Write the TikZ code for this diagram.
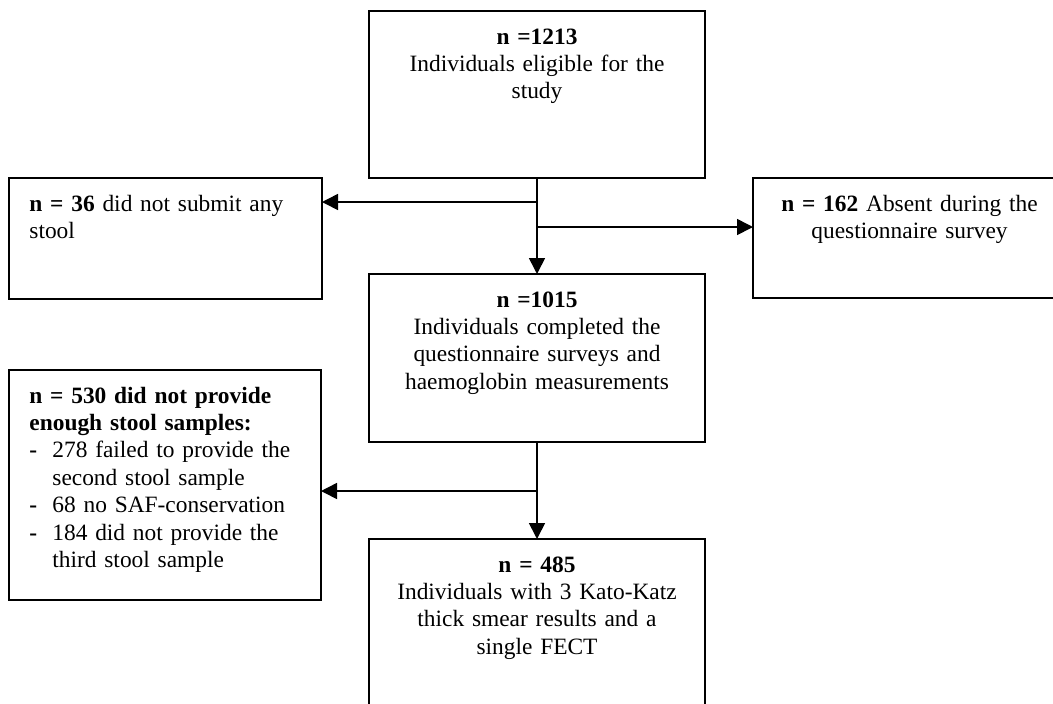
\documentclass[tikz,border=0pt]{standalone}
\usepackage{fontspec}
\setmainfont{Liberation Serif}
\usetikzlibrary{arrows.meta}
\begin{document}
\begin{tikzpicture}[x=0.5pt,y=-0.5pt,
  box/.style={draw,line width=0.8pt,inner sep=0pt,outer sep=0pt},
  ctxt/.style={inner sep=0pt,align=center,text width=165pt,anchor=base,font=\fontsize{11.7}{13.7}\selectfont},
  ltxt/.style={inner sep=0pt,align=left,text width=145pt,anchor=base west,font=\fontsize{11.7}{13.7}\selectfont},
  arr/.style={line width=0.8pt,-{Triangle[length=8pt,width=8pt]}}]
\useasboundingbox (0,0) rectangle (1053,703);
\clip (0,0) rectangle (1053,703);
% boxes
\node[box,minimum width=168pt,minimum height=83.5pt] (A) at (537,94.5) {};
\node[box,minimum width=156.5pt,minimum height=60.5pt] (B) at (165.5,238.5) {};
\node[box,minimum width=156.5pt,minimum height=60pt] (C) at (909.5,238) {};
\node[box,minimum width=168pt,minimum height=84pt] (D) at (537,358) {};
\node[box,minimum width=156pt,minimum height=115pt] (E) at (165,485) {};
\node[box,minimum width=168pt,minimum height=84pt] (F) at (537,623) {};
% texts
\node[ctxt] (At) at ([yshift=-16.5pt]A.north) {\textbf{n =1213}\\Individuals eligible for the\\study};
\node[ltxt] (Bt) at ([xshift=10pt,yshift=-16.5pt]B.north west) {\textbf{n = 36} did not submit any\\stool};
\node[ctxt] (Ct) at ([yshift=-16.5pt]C.north) {\textbf{n = 162} Absent during the\\questionnaire survey};
\node[ctxt] (Dt) at ([yshift=-16.5pt]D.north) {\textbf{n =1015}\\Individuals completed the\\questionnaire surveys and\\haemoglobin measurements};
\node[ltxt] (Et) at ([xshift=10pt,yshift=-16.5pt]E.north west) {\textbf{n = 530 did not provide}\\\textbf{enough stool samples:}\\\makebox[11.5pt][l]{\textbf{-}}278 failed to provide the\\\hspace*{11.5pt}second stool sample\\\makebox[11.5pt][l]{\textbf{-}}68 no SAF-conservation\\\makebox[11.5pt][l]{\textbf{-}}184 did not provide the\\\hspace*{11.5pt}third stool sample};
\node[ctxt] (Ft) at ([yshift=-16.5pt]F.north) {\textbf{n = 485}\\Individuals with 3 Kato-Katz\\thick smear results and a\\single FECT};
% junctions
\coordinate (j1) at (537,202);
\coordinate (j2) at (537,227);
\coordinate (j3) at (537,491);
% connectors
\draw[arr] (A.south) -- (D.north);
\draw[arr] (j1) -- (j1 -| B.east);
\draw[arr] (j2) -- (j2 -| C.west);
\draw[arr] (D.south) -- (F.north);
\draw[arr] (j3) -- (j3 -| E.east);
\end{tikzpicture}
\end{document}
